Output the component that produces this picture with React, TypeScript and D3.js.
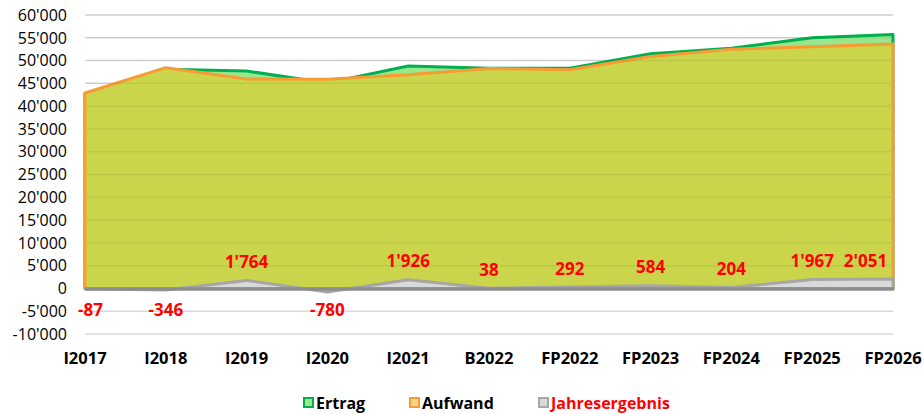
import React from 'react';
import * as d3 from 'd3';

const categories = ['I2017', 'I2018', 'I2019', 'I2020', 'I2021', 'B2022', 'FP2022', 'FP2023', 'FP2024', 'FP2025', 'FP2026'];
const ertrag = [42800, 48100, 47700, 45100, 48800, 48300, 48300, 51500, 52700, 55000, 55700];
const aufwand = [42887, 48446, 45936, 45880, 46874, 48262, 48008, 50916, 52496, 53033, 53649];
const jahresergebnis = [-87, -346, 1764, -780, 1926, 38, 292, 584, 204, 1967, 2051];
const yTicks = d3.range(-10000, 60001, 5000);

const W = 924;
const H = 414;
const margin = { top: 15, right: 31, bottom: 80, left: 85 };
const font = '"Open Sans", "DejaVu Sans", sans-serif';

const fmt = d3.formatLocale({ decimal: '.', thousands: "'", grouping: [3], currency: ['', ''], minus: '-' }).format(',d');

const series = [
  { name: 'Ertrag', values: ertrag, fill: '#9ae68d', stroke: '#00b050', legendFill: '#9ae68d', text: '#000' },
  { name: 'Aufwand', values: aufwand, fill: '#cad54c', stroke: '#f79b34', legendFill: '#fdd58a', text: '#000' },
  { name: 'Jahresergebnis', values: jahresergebnis, fill: '#d9d9d9', stroke: '#a6a6a6', legendFill: '#d9d9d9', text: '#ff0000' },
];

export default function App() {
  const x = d3.scalePoint<string>().domain(categories).range([margin.left, W - margin.right]).padding(0);
  const y = d3.scaleLinear().domain([-10000, 60000]).range([334, margin.top]);

  const area = (vals: number[]) =>
    d3.area<number>()
      .x((d, i) => x(categories[i]) as number)
      .y0(y(0))
      .y1(d => y(d))(vals) as string;

  const x0 = margin.left;
  const x1 = W - margin.right;

  // legend box positions
  const legendX = [303, 409, 538];

  return (
    <svg width={W} height={H} style={{ position: 'absolute', left: 0, top: 0, background: '#fff' }} fontFamily={font}>
      {/* y axis labels */}
      {yTicks.map(t => (
        <text key={t} x={67} y={y(t)} dy="0.36em" textAnchor="end" fontSize={16} fill="#000">{fmt(t)}</text>
      ))}

      {/* gridlines behind */}
      {yTicks.map(t => (
        <line key={'g' + t} x1={x0} x2={x1} y1={y(t)} y2={y(t)} stroke="#d9d9d9" strokeWidth={1.5} />
      ))}

      {/* areas */}
      {series.map(s => (
        <path key={s.name} d={area(s.values)} fill={s.fill} stroke={s.stroke} strokeWidth={3} strokeLinejoin="round" />
      ))}

      {/* gridlines showing through fill */}
      {yTicks.filter(t => t > 0).map(t => (
        <line key={'o' + t} x1={x0 + 2} x2={x1 - 2} y1={y(t)} y2={y(t)} stroke="#000" strokeOpacity={0.06} strokeWidth={1.5} />
      ))}

      {/* zero line */}
      <line x1={x0} x2={x1 + 1} y1={y(0) + 0.5} y2={y(0) + 0.5} stroke="#8c8c8c" strokeWidth={3.5} />

      {/* data labels */}
      {jahresergebnis.map((v, i) => {
        const label = fmt(v);
        const w = label.length * 9;
        let cx = x(categories[i]) as number;
        cx = Math.max(cx, x0 - 8 + w / 2);
        cx = Math.min(cx, x1 - 5 - w / 2);
        const yy = v >= 0 ? y(v) - 12.5 : y(0) + 28;
        return (
          <text key={'l' + i} x={cx} y={yy} textAnchor="middle" fontSize={17} fontWeight="bold" fill="#ff0000">{label}</text>
        );
      })}

      {/* x axis labels */}
      {categories.map(c => (
        <text key={c} x={x(c)} y={364} textAnchor="middle" fontSize={16.5} fontWeight="bold" fill="#000">{c}</text>
      ))}

      {/* legend */}
      {series.map((s, i) => (
        <g key={'lg' + s.name} transform={`translate(${legendX[i]},398)`}>
          <rect x={1} y={0} width={9} height={9} fill={s.legendFill} stroke={s.stroke} strokeWidth={2} />
          <text x={13} y={10.5} fontSize={16} fontWeight="bold" fill={s.text}>{s.name}</text>
        </g>
      ))}
    </svg>
  );
}
